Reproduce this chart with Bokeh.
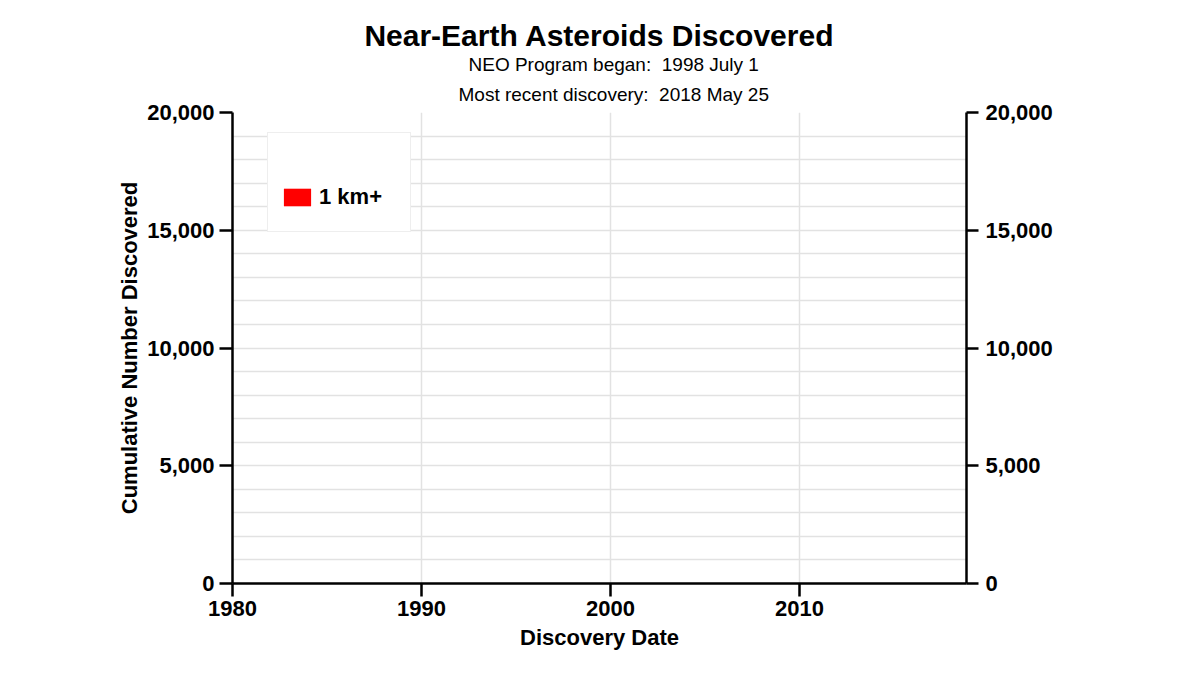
from bokeh.plotting import figure
from bokeh.models import (Range1d, LinearAxis, SingleIntervalTicker, NumeralTickFormatter,
                          Legend, LegendItem, Title)
from bokeh.embed import file_html
from bokeh.resources import INLINE

FONT = "Liberation Sans"

# ---- data / text ----
title_text = "Near-Earth Asteroids Discovered"
subtitle_lines = ["NEO Program began:\u00a0 1998 July 1", "Most recent discovery:\u00a0 2018 May 25"]
x_axis_title = "Discovery Date"
y_axis_title = "Cumulative Number Discovered"
series_name = "1 km+"
dates = [1980.0, 1980.5]          # discovery date (decimal year)
counts_1km = [0, 0]               # cumulative number discovered, 1 km+
x_tick_interval = 10
y_tick_interval = 5000
y_grid_interval = 1000
x_start, x_end = 1980, 2018.83
y_start, y_end = 0, 20000

p = figure(width=1184, height=659, title=None,
           x_range=Range1d(x_start, x_end), y_range=Range1d(y_start, y_end),
           output_backend="svg", toolbar_location=None,
           min_border_left=232, min_border_right=218,
           min_border_top=112, min_border_bottom=76,
           outline_line_color=None, background_fill_color="white",
           border_fill_color="white")

# grids
p.xgrid.ticker = SingleIntervalTicker(interval=x_tick_interval)
p.ygrid.ticker = SingleIntervalTicker(interval=y_grid_interval)
for g in (p.xgrid, p.ygrid):
    g.grid_line_color = "#e2e2e2"
    g.grid_line_width = 1.5

# series
r = p.varea(x=dates, y1=0, y2=counts_1km, fill_color="red", fill_alpha=1.0)

# axes
right_axis = LinearAxis()
p.add_layout(right_axis, "right")


def style_axis(ax, tick_out, standoff):
    ax.axis_line_color = "black"
    ax.axis_line_width = 2.5
    ax.major_tick_line_color = "black"
    ax.major_tick_line_width = 2.5
    ax.major_tick_in = 0
    ax.major_tick_out = tick_out
    ax.minor_tick_line_color = None
    ax.major_label_text_font = FONT
    ax.major_label_text_font_style = "bold"
    ax.major_label_text_font_size = "22px"
    ax.major_label_text_color = "black"
    ax.major_label_standoff = standoff
    ax.axis_label_text_font = FONT
    ax.axis_label_text_font_style = "bold"
    ax.axis_label_text_font_size = "22px"
    ax.axis_label_text_color = "black"


xax = p.xaxis[0]
xax.ticker = SingleIntervalTicker(interval=x_tick_interval)
style_axis(xax, 13, 4)
xax.axis_label = x_axis_title
xax.axis_label_standoff = 6

yax = p.yaxis[0]
yax.ticker = SingleIntervalTicker(interval=y_tick_interval)
yax.formatter = NumeralTickFormatter(format="0,0")
style_axis(yax, 13, 5)
yax.axis_label = y_axis_title
yax.axis_label_standoff = 2

right_axis.ticker = SingleIntervalTicker(interval=y_tick_interval)
right_axis.formatter = NumeralTickFormatter(format="0,0")
style_axis(right_axis, 12, 7)

# legend
legend = Legend(items=[LegendItem(label=series_name, renderers=[r])],
                location=(35, 351), orientation="vertical",
                title=" ", title_text_font_size="21px", title_standoff=6,
                padding=12, glyph_width=34, glyph_height=22, label_width=79,
                label_height=44,
                label_standoff=5, label_text_font=FONT, label_text_font_style="bold",
                label_text_font_size="22px", label_text_color="black",
                border_line_color="#dddddd", border_line_width=1.5,
                background_fill_color="white", background_fill_alpha=1.0)
p.add_layout(legend)

# titles (first added = closest to the plot frame)
p.add_layout(Title(text=subtitle_lines[1], text_font=FONT, text_font_size="19px",
                   text_font_style="normal", align="left", offset=226, standoff=15,
                   text_color="black"), "above")
p.add_layout(Title(text=subtitle_lines[0], text_font=FONT, text_font_size="19px",
                   text_font_style="normal", align="left", offset=236, standoff=0,
                   text_color="black"), "above")
p.add_layout(Title(text=title_text, text_font=FONT, text_font_size="30px",
                   text_font_style="bold", align="center", standoff=0,
                   text_color="black"), "above")

open("out.html", "w").write(file_html(p, INLINE))
